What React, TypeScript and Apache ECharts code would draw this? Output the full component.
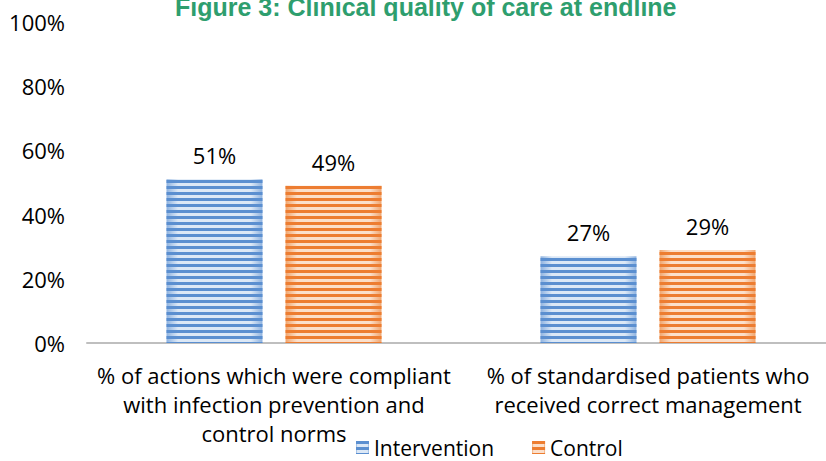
import React, { useEffect, useRef } from "react";
import * as echarts from "echarts";

const categories = [
  "% of actions which were compliant\nwith infection prevention and\ncontrol norms",
  "% of standardised patients who\nreceived correct management",
];
const interventionValues = [51, 27];
const controlValues = [49, 29];
const yTicks = [0, 20, 40, 60, 80, 100];
const titleText = "Figure 3: Clinical quality of care at endline";

const FONT = "Open Sans";

function stripedStyle(edge: string, mid: string, stripe: string) {
  return {
    color: new echarts.graphic.LinearGradient(0, 0, 1, 0, [
      { offset: 0, color: edge },
      { offset: 0.12, color: mid },
      { offset: 0.88, color: mid },
      { offset: 1, color: edge },
    ]),
    decal: {
      symbol: "rect",
      symbolSize: 1,
      color: stripe,
      dashArrayX: [1, 0],
      dashArrayY: [3, 3],
      rotation: 0,
    },
  };
}

export default function App() {
  const ref = useRef<HTMLDivElement>(null);
  useEffect(() => {
    if (!ref.current) return;
    const chart = echarts.init(ref.current, undefined, { renderer: "svg" });
    const labelStyle = {
      show: true,
      position: "top",
      distance: 13,
      formatter: "{c}%",
      fontFamily: FONT,
      fontSize: 22,
      color: "#000",
    };
    chart.setOption({
      animation: false,
      backgroundColor: "#ffffff",
      aria: { enabled: false },
      title: {
        text: titleText,
        left: 170,
        top: -11,
        textStyle: {
          fontFamily: "Liberation Sans",
          fontWeight: "bold",
          fontSize: 25,
          color: "#2e9e6e",
        },
      },
      grid: {
        left: 87,
        width: 748,
        top: 22,
        height: 321,
        containLabel: false,
        outerBoundsMode: "none",
      },
      legend: {
        left: 351,
        top: 432,
        itemWidth: 13,
        itemHeight: 13,
        itemGap: 38,
        icon: "rect",
        textStyle: { fontFamily: FONT, fontSize: 21, color: "#000" },
        data: ["Intervention", "Control"],
      },
      xAxis: {
        type: "category",
        data: categories,
        axisLine: { lineStyle: { color: "#bfbfbf", width: 2 } },
        axisTick: { show: false },
        axisLabel: {
          fontFamily: FONT,
          fontSize: 22,
          color: "#000",
          margin: 17,
          lineHeight: 29,
          interval: 0,
        },
      },
      yAxis: {
        type: "value",
        min: 0,
        max: 100,
        interval: 20,
        splitLine: { show: false },
        axisLine: { show: false },
        axisTick: { show: false },
        axisLabel: {
          fontFamily: FONT,
          fontSize: 22,
          color: "#000",
          margin: 22,
          formatter: (v: number) => (yTicks.includes(v) ? v + "%" : ""),
        },
      },
      series: [
        {
          name: "Intervention",
          type: "bar",
          data: interventionValues,
          barWidth: 96,
          barGap: "24%",
          itemStyle: stripedStyle("#8fb3e0", "#dce8f6", "#5b8fd0"),
          label: labelStyle,
        },
        {
          name: "Control",
          type: "bar",
          data: controlValues,
          barWidth: 96,
          itemStyle: stripedStyle("#f0a56e", "#fbe0cc", "#ed7d31"),
          label: labelStyle,
        },
      ],
    });
    return () => chart.dispose();
  }, []);
  return (
    <div
      ref={ref}
      style={{ position: "fixed", left: 0, top: 0, width: 826, height: 461 }}
    />
  );
}
